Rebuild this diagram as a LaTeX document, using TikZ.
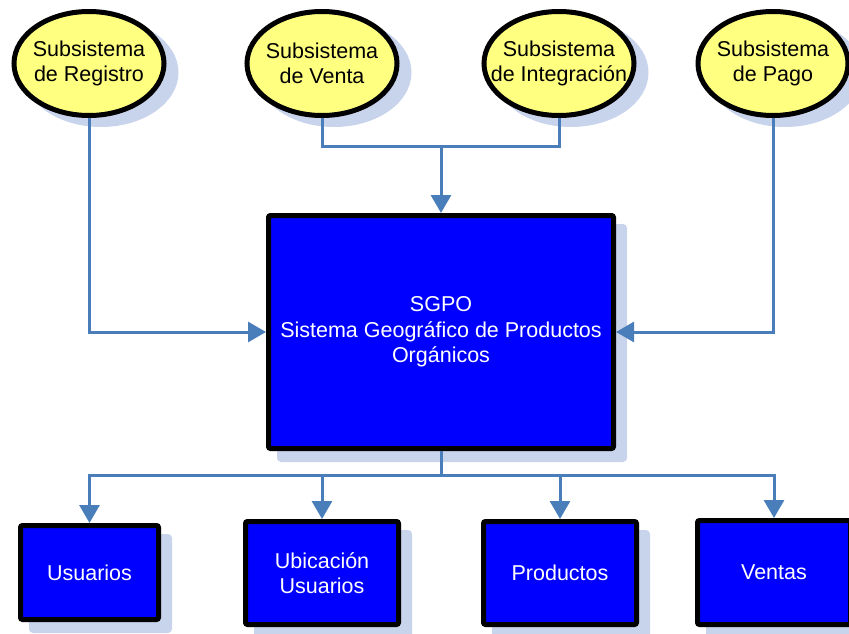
\documentclass[tikz,border=0pt]{standalone}
\usepackage{fontspec}
\setmainfont{Liberation Sans}
\usetikzlibrary{arrows.meta,shadows,shapes.geometric}
\definecolor{linkblue}{RGB}{74,126,187}
\definecolor{shadeblue}{RGB}{200,212,236}
\definecolor{subyellow}{RGB}{255,255,128}
\definecolor{boxblue}{RGB}{0,0,255}

\begin{document}
\begin{tikzpicture}[x=1pt,y=-1pt,
  txt/.style={align=center, font=\fontsize{21.5}{25.5}\selectfont},
  % negative inner sep keeps the ellipse at its minimum size for long labels
  subsys/.style={txt, ellipse, draw=black, line width=5pt, fill=subyellow,
    minimum width=150pt, minimum height=104pt, inner xsep=-40pt, inner ysep=-20pt,
    outer sep=2.5pt,
    drop shadow={shadow xshift=12pt, shadow yshift=-9pt, fill=shadeblue,
      draw=shadeblue, line width=5pt, opacity=1}},
  module/.style={txt, rectangle, rounded corners=2pt, draw=black, line width=5pt,
    fill=boxblue, text=white, inner sep=0pt, outer sep=2.5pt,
    drop shadow={shadow xshift=11pt, shadow yshift=-11pt, fill=shadeblue,
      draw=shadeblue, line width=5pt, opacity=1}},
  link/.style={draw=linkblue, line width=3pt},
  flow/.style={link, -{Triangle[length=18pt,width=20pt]}}
]
\clip (0,0) rectangle (849,634);

% subsystems
\node[subsys] (reg)   at (89,63.5)  {Subsistema\\de Registro};
\node[subsys] (venta) at (322,63.5) {Subsistema\\de Venta};
\node[subsys] (integ) at (559,63.5) {Subsistema\\de Integración};
\node[subsys] (pago)  at (773,63.5) {Subsistema\\de Pago};

% central system
\node[module, minimum width=345pt, minimum height=233pt] (sgpo) at (441,332)
  {SGPO\\Sistema Geográfico de Productos\\Orgánicos};

% modules
\node[module, minimum width=138pt, minimum height=94pt]  (usu)  at (89.5,572.5) {Usuarios};
\node[module, minimum width=153pt, minimum height=103pt] (ubic) at (322,573)    {Ubicación\\Usuarios};
\node[module, minimum width=153pt, minimum height=103pt] (prod) at (560,573)    {Productos};
\node[module, minimum width=153pt, minimum height=104pt] (vent) at (774,572.5)  {Ventas};

% connectors into the system
\coordinate (top) at (441,146);
\draw[flow] (reg.south) |- (sgpo.west);
\draw[link] (venta.south) |- (top) -| (integ.south);
\draw[flow] (top) -- (sgpo.north);
\draw[flow] (pago.south) |- (sgpo.east);

% connectors to the modules
\coordinate (bot) at (441,475);
\draw[link] (sgpo.south) -- (bot);
\draw[flow] (bot) -| (usu.north);
\draw[flow] (bot) -| (ubic.north);
\draw[flow] (bot) -| (prod.north);
\draw[flow] (bot) -| (vent.north);
\end{tikzpicture}
\end{document}
